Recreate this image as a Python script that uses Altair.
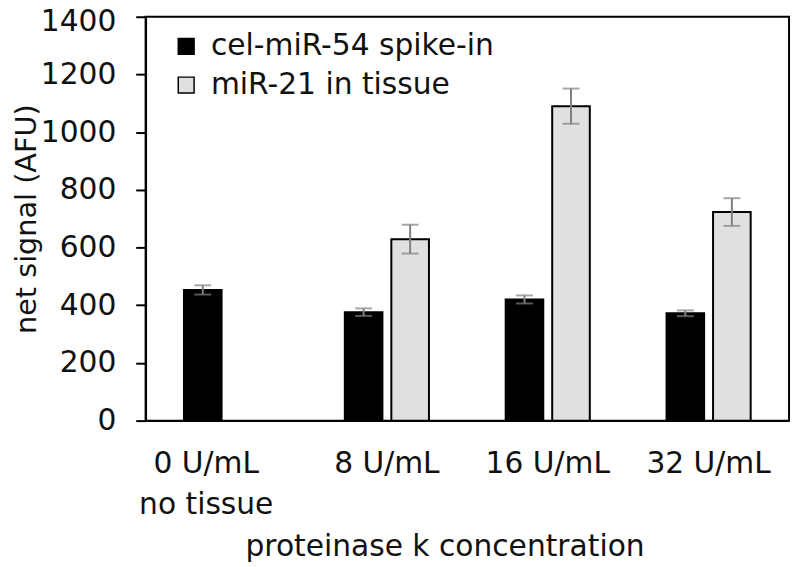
import altair as alt
import pandas as pd

categories = ["0 U/mL", "8 U/mL", "16 U/mL", "32 U/mL"]
series = ["cel-miR-54 spike-in", "miR-21 in tissue"]
spike_values = [453, 376, 420, 372]
spike_errors = [16, 13, 14, 10]
tissue_values = [None, 629, 1090, 723]
tissue_errors = [None, 50, 61, 48]
y_ticks = [0, 200, 400, 600, 800, 1000, 1200, 1400]

rows = []
for i, c in enumerate(categories):
    rows.append(dict(cat=c, series=series[0], value=spike_values[i], err=spike_errors[i]))
    if tissue_values[i] is not None:
        rows.append(dict(cat=c, series=series[1], value=tissue_values[i], err=tissue_errors[i]))
df = pd.DataFrame(rows)
df["lo"] = df["value"] - df["err"]
df["hi"] = df["value"] + df["err"]

FONT = "DejaVu Sans"
FS = 30
TXT = "#111111"

x_enc = alt.X(
    "cat:N", sort=categories, title="proteinase k concentration",
    scale=alt.Scale(paddingInner=0.477, paddingOuter=0.2385),
    axis=alt.Axis(
        ticks=False, labelAngle=0, labelPadding=28, labelLineHeight=42,
        labelExpr="datum.value == '0 U/mL' ? ['0 U/mL', 'no tissue'] : datum.value",
        labelOffset={"condition": {"test": "datum.value == '0 U/mL'", "value": -20}, "value": 0},
        titleX=302, titleY=136, titleBaseline="alphabetic",
    ),
)
xo_enc = alt.XOffset(
    "series:N", sort=series,
    scale=alt.Scale(domain=series, paddingInner=0.1915, paddingOuter=0),
)


def y_enc(field):
    return alt.Y(
        field, type="quantitative", title="net signal (AFU)",
        scale=alt.Scale(domain=[0, 1400], nice=False),
        axis=alt.Axis(
            values=y_ticks, format="d", grid=False, tickSize=10, labelPadding=20,
            labelOffset={"condition": {"test": "datum.value == 1400", "value": 5}, "value": 0},
            titleX=-105, titleY=204, titleFontSize=29,
        ),
    )


bars = alt.Chart(df).mark_bar(stroke="black", strokeWidth=2).encode(
    x=x_enc, xOffset=xo_enc, y=y_enc("value"),
    color=alt.Color(
        "series:N",
        scale=alt.Scale(domain=series, range=["#000000", "#e0e0e0"]),
        legend=alt.Legend(
            title=None, orient="none", legendX=26, legendY=15,
            symbolType="square", symbolSize=256, symbolStrokeColor="black",
            symbolStrokeWidth=1.5, labelFontSize=FS, labelFont=FONT,
            labelOffset=10, rowPadding=9, padding=0, labelColor=TXT,
            labelLimit=0,
        ),
    ),
)

err = alt.Chart(df).mark_rule(color="#808080", strokeWidth=2).encode(
    x=x_enc, xOffset=xo_enc, y=y_enc("lo"), y2="hi:Q",
)
cap_lo = alt.Chart(df).mark_tick(color="#808080", thickness=2, size=17, orient="horizontal").encode(
    x=x_enc, xOffset=xo_enc, y=y_enc("lo"),
)
cap_hi = alt.Chart(df).mark_tick(color="#808080", thickness=2, size=17, orient="horizontal").encode(
    x=x_enc, xOffset=xo_enc, y=y_enc("hi"),
)

chart = alt.layer(bars, err, cap_lo, cap_hi).properties(
    width=650, height=408,
    autosize=alt.AutoSizeParams(type="none"),
    padding={"left": 139, "top": 6, "right": 3, "bottom": 140},
).configure_view(
    stroke="black", strokeWidth=2,
).configure_axis(
    labelFont=FONT, labelFontSize=FS, titleFont=FONT, titleFontSize=FS,
    labelColor=TXT, titleColor=TXT, titleFontWeight="normal",
    domainColor="black", domainWidth=2, tickColor="black", tickWidth=2,
)

chart.save("out.html", embed_options={"renderer": "svg", "actions": False})
